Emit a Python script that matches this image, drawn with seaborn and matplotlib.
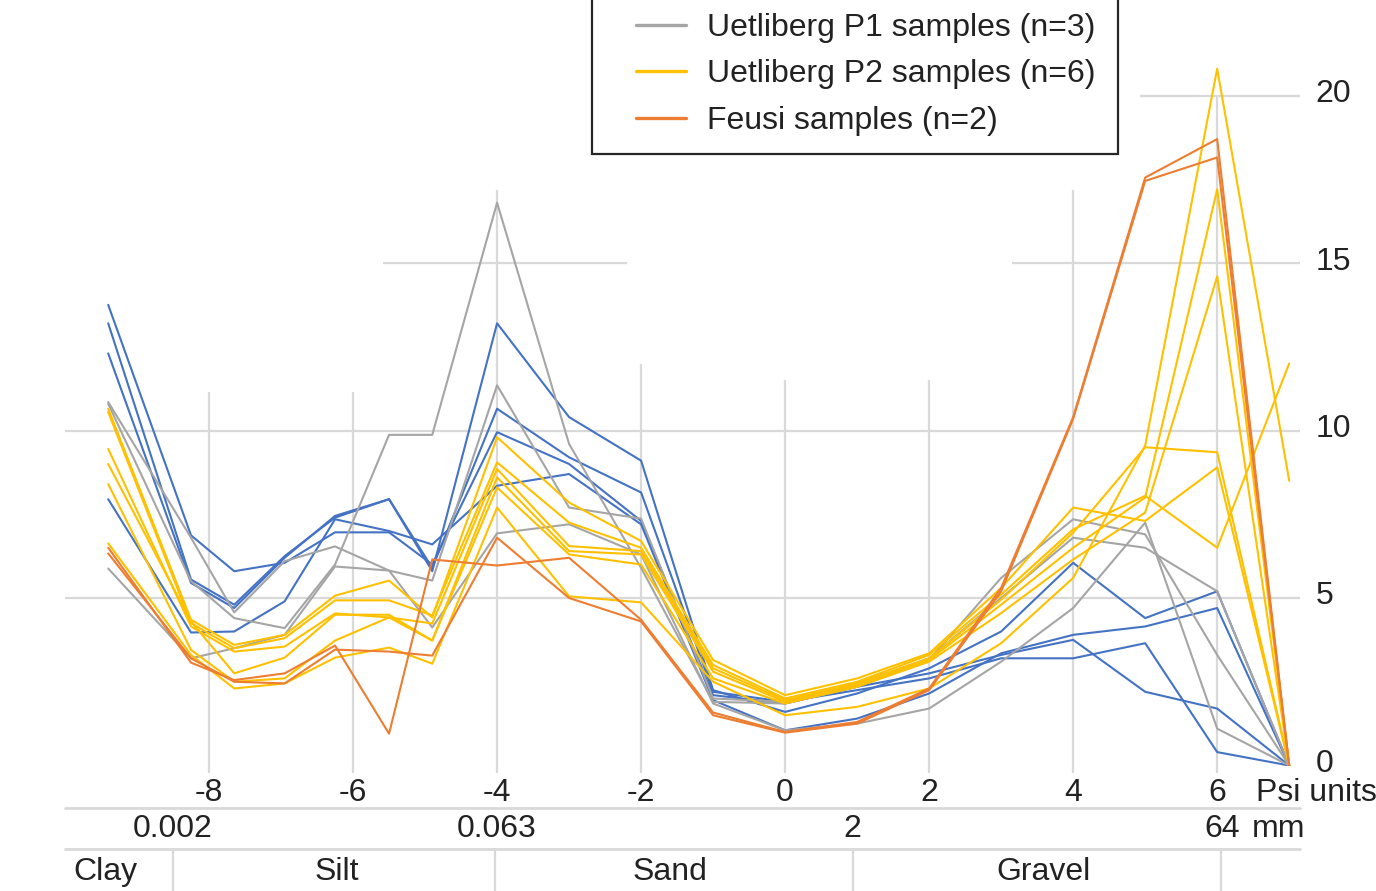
import pandas as pd
import matplotlib.pyplot as plt
import seaborn as sns
from matplotlib.lines import Line2D
from matplotlib.patches import Rectangle
from matplotlib.transforms import blended_transform_factory, ScaledTranslation

# grain size classes on the psi scale (one value per sieve / hydrometer step)
psi = [-9.4, -8.25, -7.65, -6.95, -6.25, -5.5, -4.9, -4, -3, -2, -1, 0, 1, 2, 3, 4, 5, 6, 7]

# weight percent per class, one list per sample
blue_samples = [
    [13.75, 6.87, 5.8, 6.05, 6.96, 6.96, 6.0, 9.95, 9.0, 7.3, 2.1, 1.85, 2.35, 2.75, 3.3, 3.75, 2.2, 1.7, 0],
    [13.2, 5.55, 4.8, 6.25, 7.4, 7.95, 5.8, 13.2, 10.4, 9.1, 2.25, 1.6, 2.15, 2.9, 4.0, 6.05, 4.4, 5.2, 0],
    [12.3, 5.45, 4.7, 6.2, 7.45, 7.95, 5.9, 10.65, 9.2, 8.15, 2.2, 1.9, 2.25, 2.6, 3.2, 3.2, 3.65, 0.4, 0],
    [7.95, 3.97, 4.0, 4.9, 7.35, 7.0, 6.6, 8.35, 8.7, 7.2, 1.95, 1.05, 1.4, 2.15, 3.35, 3.9, 4.15, 4.7, 0],
]
p1_samples = [
    [10.85, 6.8, 4.57, 6.1, 6.54, 5.82, 5.52, 11.35, 7.7, 7.37, 2.0, 1.9, 2.45, 3.2, 5.0, 6.8, 6.5, 5.2, 0],
    [10.8, 5.5, 4.4, 4.1, 6.0, 9.87, 9.87, 16.8, 9.6, 5.9, 1.9, 1.85, 2.35, 3.15, 5.6, 7.35, 6.9, 3.3, 0],
    [5.88, 3.2, 3.5, 3.9, 5.94, 5.82, 4.12, 6.93, 7.2, 6.3, 1.85, 1.05, 1.25, 1.7, 3.1, 4.7, 7.25, 1.1, 0],
]
p2_samples = [
    [10.65, 4.35, 3.6, 3.9, 5.07, 5.52, 4.42, 9.8, 7.85, 6.7, 3.15, 2.1, 2.6, 3.35, 5.3, 7.7, 7.3, 8.9, 0],
    [10.55, 4.25, 3.5, 3.8, 4.93, 4.93, 4.48, 9.05, 7.25, 6.5, 3.0, 2.0, 2.5, 3.3, 5.1, 7.05, 8.05, 6.5, 12.0],
    [9.45, 4.15, 3.4, 3.55, 4.54, 4.42, 4.24, 8.85, 6.55, 6.4, 2.9, 1.95, 2.45, 3.2, 4.95, 6.95, 9.5, 9.35, 0],
    [9.0, 4.3, 2.75, 3.22, 4.5, 4.5, 3.73, 8.6, 6.4, 6.3, 2.8, 1.9, 2.4, 3.15, 4.8, 6.5, 8.0, 17.2, 0],
    [8.4, 3.45, 2.5, 2.6, 3.73, 4.42, 3.73, 8.3, 6.3, 6.0, 2.6, 1.85, 2.35, 3.1, 4.55, 6.15, 7.55, 14.6, 0],
    [6.63, 3.3, 2.3, 2.45, 3.22, 3.52, 3.04, 7.7, 5.05, 4.87, 2.5, 1.5, 1.75, 2.3, 3.65, 5.6, 9.55, 20.8, 8.5],
]
feusi_samples = [
    [6.5, 3.07, 2.55, 2.75, 3.58, 0.95, 6.15, 5.97, 6.2, 4.35, 1.58, 1.0, 1.3, 2.3, 5.3, 10.4, 17.55, 18.7, 0],
    [6.33, 3.2, 2.5, 2.45, 3.46, 3.4, 3.28, 6.8, 5.0, 4.3, 1.5, 0.98, 1.25, 2.25, 5.2, 10.35, 17.45, 18.15, 0],
]

groups = ["blue", "p1", "p2", "feusi"]
legend_groups = ["p1", "p2", "feusi"]
legend_labels = ["Uetliberg P1 samples (n=3)", "Uetliberg P2 samples (n=6)", "Feusi samples (n=2)"]

x_ticks = [-8, -6, -4, -2, 0, 2, 4, 6]
y_ticks = [0, 5, 10, 15, 20]
mm_labels = ["0.002", "0.063", "2", "64"]
mm_label_psi = [-8.5, -4.0, 0.93, 6.07]
class_labels = ["Clay", "Silt", "Sand", "Gravel"]

colors = {"blue": "#4472C4", "p1": "#A5A5A5", "p2": "#FFC000", "feusi": "#ED7D31"}
grid_color = "#D9D9D9"
text_color = "#222222"

W, H = 1376, 891


def fx(px):
    return px / W


def fy(py):
    return 1 - py / H


def build_frame():
    rows = []
    samples = {"blue": blue_samples, "p1": p1_samples, "p2": p2_samples, "feusi": feusi_samples}
    for group in groups:
        for i, values in enumerate(samples[group]):
            for x, v in zip(psi, values):
                rows.append({"psi": x, "pct": v, "group": group, "sample": f"{group}_{i}"})
    return pd.DataFrame(rows)


sns.set_style("white")
plt.rcParams["font.family"] = ["Liberation Sans", "DejaVu Sans"]
plt.rcParams["axes.unicode_minus"] = False

df = build_frame()

fig = plt.figure(figsize=(W / 100, H / 100), dpi=100)
ax = fig.add_axes([fx(65), 1 - 765.5 / H, fx(1300) - fx(65), 765.5 / H])

# partial gridlines, like in the original figure
hgrid = [(20, 4.93, 7.15), (15, -5.58, -2.19), (15, 3.15, 7.15), (10, -10, 7.15), (5, -10, 7.15)]
vgrid_top = {-8: 11.15, -6: 11.15, -4: 17.18, -2: 12.0, 0: 11.5, 2: 11.5, 4: 17.18, 6: 20.0}
for yv, x0, x1 in hgrid:
    ax.hlines(yv, x0, x1, color=grid_color, lw=1.6, zorder=0, clip_on=False)
for xv, top in vgrid_top.items():
    ax.vlines(xv, -0.22, top, color=grid_color, lw=1.6, zorder=0, clip_on=False)

sns.lineplot(data=df, x="psi", y="pct", hue="group", hue_order=groups, units="sample",
             estimator=None, palette=colors, linewidth=1.5, legend=False, ax=ax)

ax.set_xlim(-10, 7.15)
ax.set_ylim(0, 765.5 / 33.5)
for s in ax.spines.values():
    s.set_visible(False)
ax.set_xlabel("")
ax.set_ylabel("")
ax.set_xticks(x_ticks)
ax.set_xticklabels([str(t) for t in x_ticks])
ax.yaxis.tick_right()
ax.set_yticks(y_ticks)
ax.set_yticklabels([str(t) for t in y_ticks])
ax.tick_params(axis="both", length=0, labelsize=23, colors=text_color)
ax.tick_params(axis="x", pad=9)
ax.tick_params(axis="y", pad=11)
# value labels sit a little above their gridlines
lift = ScaledTranslation(0, 0.05, fig.dpi_scale_trans)
for lab in ax.get_yticklabels():
    lab.set_transform(lab.get_transform() + lift)

# psi / mm / class rows below the plot
fig.text(fx(1256), fy(793), "Psi units", fontsize=23, color=text_color, ha="left", va="center")
blend = blended_transform_factory(ax.transData, fig.transFigure)
for lab, xv in zip(mm_labels, mm_label_psi):
    ax.text(xv, fy(829), lab, transform=blend, fontsize=23, color=text_color, ha="center", va="center")
fig.text(fx(1252), fy(829), "mm", fontsize=23, color=text_color, ha="left", va="center")
for lab, px in zip(class_labels, [105, 337, 670, 1043]):
    fig.text(fx(px), fy(872), lab, fontsize=23, color=text_color, ha="center", va="center")

for py in (808, 849):
    fig.add_artist(Line2D([fx(65), fx(1300)], [fy(py), fy(py)], color=grid_color, lw=2))
for px in (173, 495, 853, 1221):
    fig.add_artist(Line2D([fx(px), fx(px)], [fy(849), fy(H)], color=grid_color, lw=1.6))

# legend (top of the box runs off the figure)
box = Rectangle((fx(592), fy(154)), fx(1118) - fx(592), fy(-20) - fy(154), transform=fig.transFigure,
                facecolor="white", edgecolor="#262626", lw=1.6, zorder=5, clip_on=False)
ax.add_patch(box)
handles = [Line2D([], [], color=colors[g], lw=2.4) for g in legend_groups]
leg = ax.legend(handles, legend_labels, loc="lower left", bbox_to_anchor=(fx(620), fy(152)),
                bbox_transform=fig.transFigure, frameon=False, borderpad=0, handlelength=1.56,
                handletextpad=0.66, labelspacing=0.52, fontsize=23)
leg.set_zorder(6)
for t in leg.get_texts():
    t.set_color(text_color)

fig.savefig("out.png", dpi=100)
